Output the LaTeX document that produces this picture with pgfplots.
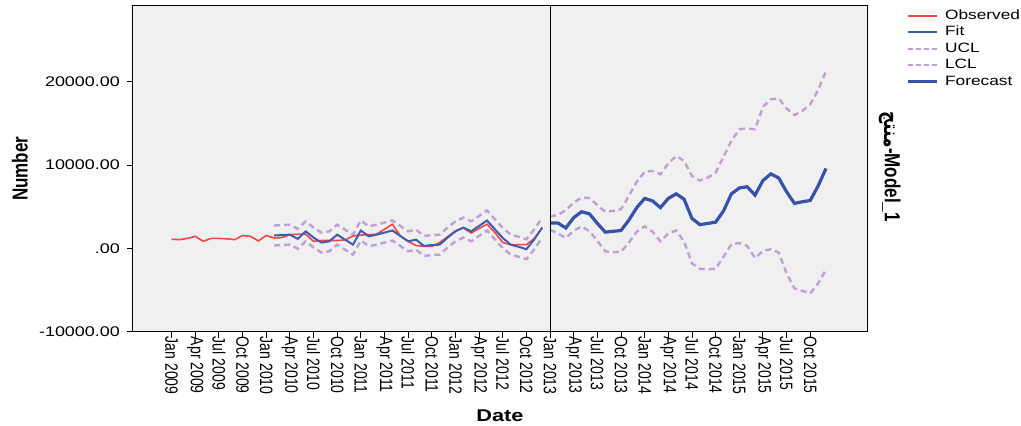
\documentclass[border=0pt]{standalone}
\usepackage{fontspec}
\setmainfont{Liberation Sans}
\newfontfamily\arabicfont[Script=Arabic]{DejaVu Sans}
\TeXXeTstate=1
\usepackage{graphicx}
\usepackage{pgfplots}
\usepackage{pgfplotstable}
\pgfplotsset{compat=1.18}

\definecolor{obsred}{RGB}{240,70,70}
\definecolor{fitc}{RGB}{62,92,178}
\definecolor{fc}{RGB}{55,82,168}
\definecolor{cl}{RGB}{190,160,215}
\definecolor{bg}{RGB}{240,240,240}

\newcommand{\hs}[1]{\scalebox{1.28}[1]{#1}}
\newcommand{\vs}[1]{\scalebox{1}[1.28]{#1}}

\pgfplotstableread{
m v
0 1100
1 1050
2 1200
3 1450
4 850
5 1200
6 1200
7 1150
8 1050
9 1550
10 1450
11 900
12 1550
13 1250
14 1300
15 1650
16 1700
17 1700
18 850
19 950
20 950
21 950
22 1000
23 1500
24 1600
25 1650
26 1700
27 2300
28 2900
29 1500
30 850
31 350
32 250
33 250
34 700
35 1400
36 2100
37 2450
38 1850
39 2400
40 2900
41 1900
42 700
43 450
44 450
45 450
46 1200
47 2450
}\observed

\pgfplotstableread{
m fit ucl lcl
13 1550 2750 350
14 1600 2800 400
15 1650 2850 450
16 1150 2350 -50
17 2050 3250 850
18 1300 2500 100
19 700 1900 -500
20 850 2050 -350
21 1650 2850 450
22 1050 2250 -150
23 450 1650 -750
24 2150 3350 950
25 1450 2650 250
26 1650 2850 450
27 1900 3100 700
28 2150 3350 950
29 1500 2700 300
30 850 2050 -350
31 1050 2250 -150
32 300 1500 -900
33 400 1600 -800
34 450 1650 -750
35 1300 2500 100
36 2050 3250 850
37 2500 3700 1300
38 2050 3250 850
39 2700 3900 1500
40 3350 4550 2150
41 2300 3500 1100
42 1250 2450 50
43 450 1650 -750
44 200 1400 -1000
45 -100 1100 -1300
46 1100 2300 -100
47 2500 3700 1300
}\fitted

\pgfplotstableread{
m fc ucl lcl
48 3050 3850 2250
49 3050 4000 1800
50 2450 4600 1250
51 3700 5500 2100
52 4400 6100 2650
53 4150 6050 2050
54 3000 5200 900
55 1950 4400 -350
56 2050 4500 -450
57 2150 4700 -400
58 3400 6300 700
59 4900 8000 2000
60 6000 9200 2650
61 5700 9300 2000
62 4900 8900 850
63 6000 10200 1800
64 6550 11100 2150
65 5900 10500 800
66 3600 8700 -1800
67 2850 8150 -2450
68 3000 8500 -2500
69 3150 9100 -2450
70 4500 11000 -1000
71 6550 12900 500
72 7250 14300 650
73 7400 14400 300
74 6400 14300 -1150
75 8150 17000 -300
76 8950 17900 -100
77 8450 18000 -500
78 6800 16800 -3000
79 5400 16000 -4800
80 5600 16500 -5100
81 5750 17300 -5400
82 7500 19000 -4200
83 9600 21300 -2550
}\forecast

\begin{document}
\begin{tikzpicture}
\useasboundingbox (-133pt,-94.3pt) rectangle (888pt,331.7pt);
\begin{axis}[
  at={(0,0)}, anchor=south west,
  scale only axis, width=734pt, height=325.7pt,
  xmin=-4.9, xmax=88.2, ymin=-10000, ymax=29100,
  scaled y ticks=false, scaled x ticks=false,
  axis background/.style={fill=bg},
  axis line style={black, line width=1pt},
  tick align=outside, major tick length=6pt,
  every tick/.style={black, line width=0.9pt},
  xtick pos=bottom, ytick pos=left,
  xtick={0,3,...,81},
  xticklabels={\vs{Jan 2009},\vs{Apr 2009},\vs{Jul 2009},\vs{Oct 2009},
               \vs{Jan 2010},\vs{Apr 2010},\vs{Jul 2010},\vs{Oct 2010},
               \vs{Jan 2011},\vs{Apr 2011},\vs{Jul 2011},\vs{Oct 2011},
               \vs{Jan 2012},\vs{Apr 2012},\vs{Jul 2012},\vs{Oct 2012},
               \vs{Jan 2013},\vs{Apr 2013},\vs{Jul 2013},\vs{Oct 2013},
               \vs{Jan 2014},\vs{Apr 2014},\vs{Jul 2014},\vs{Oct 2014},
               \vs{Jan 2015},\vs{Apr 2015},\vs{Jul 2015},\vs{Oct 2015}},
  x tick label style={rotate=-90, anchor=west, font=\fontsize{14}{16}\selectfont, inner sep=0pt, xshift=-1pt},
  ytick={-10000,0,10000,20000},
  yticklabels={\hs{-10000.00},\hs{.00},\hs{10000.00},\hs{20000.00}},
  y tick label style={font=\fontsize{14}{16}\selectfont, inner sep=1pt, xshift=-6pt},
  xlabel={\hs{Date}},
  ylabel={\vs{Number}},
  every axis x label/.style={at={(rel axis cs:0.5,-0.259)}, anchor=center, font=\fontsize{17}{20}\selectfont\bfseries},
  every axis y label/.style={at={(rel axis cs:-0.154,0.5)}, anchor=center, rotate=90, font=\fontsize{17}{20}\selectfont\bfseries},
  legend image code/.code={\draw[#1] (0pt,0pt) -- (29pt,0pt);},
  legend style={at={(rel axis cs:1.053,0.9935)}, anchor=north west, draw=none, fill=none,
    font=\fontsize{13.5}{16}\selectfont, row sep=1.5pt, inner sep=0pt,
    nodes={inner sep=1pt, text height=10pt, text depth=3pt},
    /tikz/every odd column/.append style={column sep=6pt}},
  legend cell align=left,
  clip=false,
]
\addplot[cl, line width=2.4pt, dash pattern=on 6pt off 4pt, forget plot] table[x=m, y=ucl] {\fitted};
\addplot[cl, line width=2.4pt, dash pattern=on 6pt off 4pt, forget plot] table[x=m, y=lcl] {\fitted};
\addplot[cl, line width=2.4pt, dash pattern=on 6pt off 4pt, forget plot] table[x=m, y=ucl] {\forecast};
\addplot[cl, line width=2.4pt, dash pattern=on 6pt off 4pt, forget plot] table[x=m, y=lcl] {\forecast};
\addplot[color=obsred, line width=1.6pt, forget plot] table[x=m, y=v] {\observed};
\addplot[color=fitc, line width=2pt, forget plot] table[x=m, y=fit] {\fitted};
\addplot[color=fc, line width=3.2pt, forget plot] table[x=m, y=fc] {\forecast};
\addplot[black, line width=1pt, forget plot] coordinates {(48,-10000) (48,29100)};
\addlegendimage{color=obsred, line width=1.8pt}
\addlegendentry{\hs{Observed}}
\addlegendimage{color=fitc, line width=1.8pt}
\addlegendentry{\hs{Fit}}
\addlegendimage{color=cl, line width=2pt, dash pattern=on 5pt off 3pt}
\addlegendentry{\hs{UCL}}
\addlegendimage{color=cl, line width=2pt, dash pattern=on 5pt off 3pt}
\addlegendentry{\hs{LCL}}
\addlegendimage{color=fc, line width=3pt}
\addlegendentry{\hs{Forecast}}
\node[rotate=-90, anchor=center, font=\fontsize{17}{20}\selectfont\bfseries] at (rel axis cs:1.0315,0.507)
  {\vs{{\arabicfont\beginR منتج\endR}-Model\_1}};
\end{axis}
\end{tikzpicture}
\end{document}
